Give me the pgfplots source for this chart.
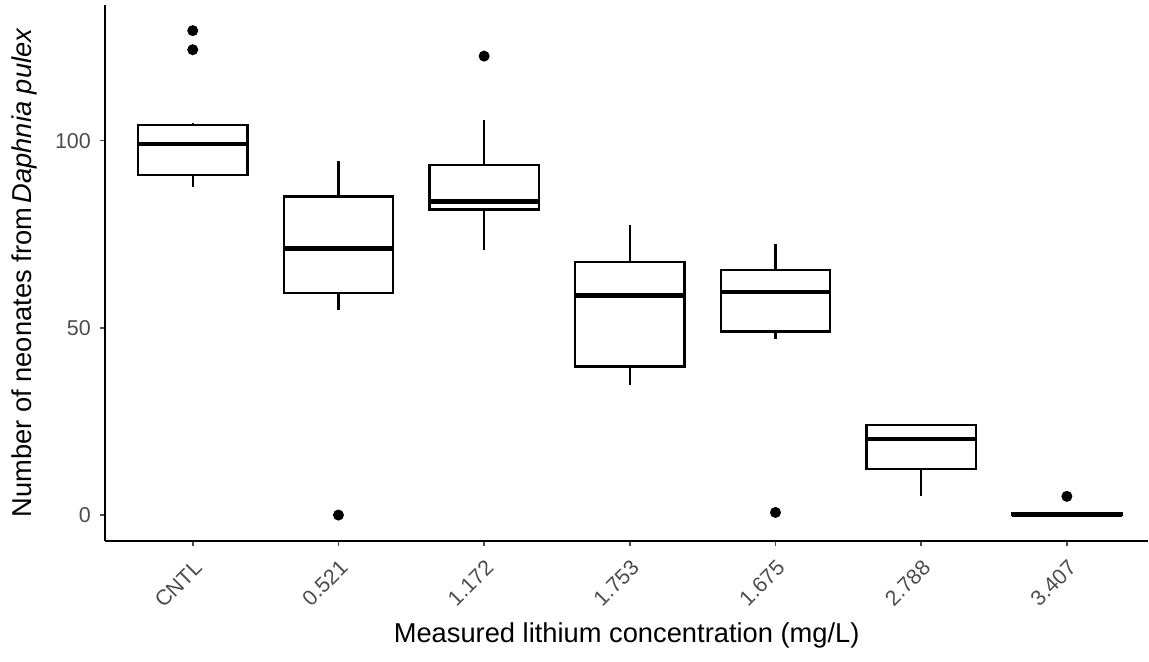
\documentclass[border={1.5pt 2pt 0pt 1.5pt}]{standalone}
\usepackage{fontspec}
\setmainfont{Liberation Sans}
\usepackage{pgfplots}
\usepgfplotslibrary{statistics}
\pgfplotsset{compat=1.18}
\definecolor{tickgray}{HTML}{4D4D4D}

\begin{document}
\begin{tikzpicture}
\begin{axis}[
    scale only axis,
    width=14.5cm, height=7.45cm,
    xmin=0.4, xmax=7.557,
    ymin=-6.8, ymax=136.3,
    axis x line*=bottom, axis y line*=left,
    axis line style={line width=0.8pt, -},
    xtick={1,...,7},
    xticklabels={CNTL,0.521,1.172,1.753,1.675,2.788,3.407},
    ytick={0,50,100},
    tick align=outside,
    major tick length=2.2pt,
    tick style={line width=0.6pt, tickgray},
    x tick label style={rotate=45, anchor=north east, font=\fontsize{8.5}{10}\selectfont, text=tickgray},
    y tick label style={font=\fontsize{8.5}{10}\selectfont, text=tickgray},
    /pgf/number format/assume math mode=true,
    xlabel={Measured lithium concentration (mg/L)},
    ylabel={Number of neonates from\,\textit{Daphnia pulex}},
    label style={font=\fontsize{10.8}{12}\selectfont},
    xlabel style={yshift=3pt},
    boxplot/draw direction=y,
    boxplot/box extend=0.75,
    boxplot/whisker extend=0,
    boxplot/every median/.style={line width=1.9pt},
]
    % CNTL
    \addplot[black, line width=0.9pt, mark=*, mark size=1.7pt,
        boxplot prepared={draw position=1, lower whisker=87.7, lower quartile=90.8,
            median=99.1, upper quartile=104.1, upper whisker=104.6}]
        table[row sep=\\, y index=0] {v\\ 129.4\\ 124.3\\};
    % 0.521
    \addplot[black, line width=0.9pt, mark=*, mark size=1.7pt,
        boxplot prepared={draw position=2, lower whisker=54.9, lower quartile=59.3,
            median=71.2, upper quartile=85.1, upper whisker=94.7}]
        table[row sep=\\, y index=0] {v\\ 0\\};
    % 1.172
    \addplot[black, line width=0.9pt, mark=*, mark size=1.7pt,
        boxplot prepared={draw position=3, lower whisker=70.8, lower quartile=81.6,
            median=83.7, upper quartile=93.6, upper whisker=105.4}]
        table[row sep=\\, y index=0] {v\\ 122.6\\};
    % 1.753
    \addplot[black, line width=0.9pt, mark=*, mark size=1.7pt,
        boxplot prepared={draw position=4, lower whisker=34.7, lower quartile=39.7,
            median=58.7, upper quartile=67.6, upper whisker=77.4}]
        coordinates {};
    % 1.675
    \addplot[black, line width=0.9pt, mark=*, mark size=1.7pt,
        boxplot prepared={draw position=5, lower whisker=47.0, lower quartile=49.0,
            median=59.6, upper quartile=65.4, upper whisker=72.5}]
        table[row sep=\\, y index=0] {v\\ 0.7\\};
    % 2.788
    \addplot[black, line width=0.9pt, mark=*, mark size=1.7pt,
        boxplot prepared={draw position=6, lower whisker=5.1, lower quartile=12.3,
            median=20.3, upper quartile=24.0, upper whisker=24.0}]
        coordinates {};
    % 3.407
    \addplot[black, line width=0.9pt, mark=*, mark size=1.7pt,
        boxplot prepared={draw position=7, lower whisker=0, lower quartile=0,
            median=0, upper quartile=0.4, upper whisker=0.4}]
        table[row sep=\\, y index=0] {v\\ 5.0\\};
\end{axis}
\end{tikzpicture}
\end{document}
